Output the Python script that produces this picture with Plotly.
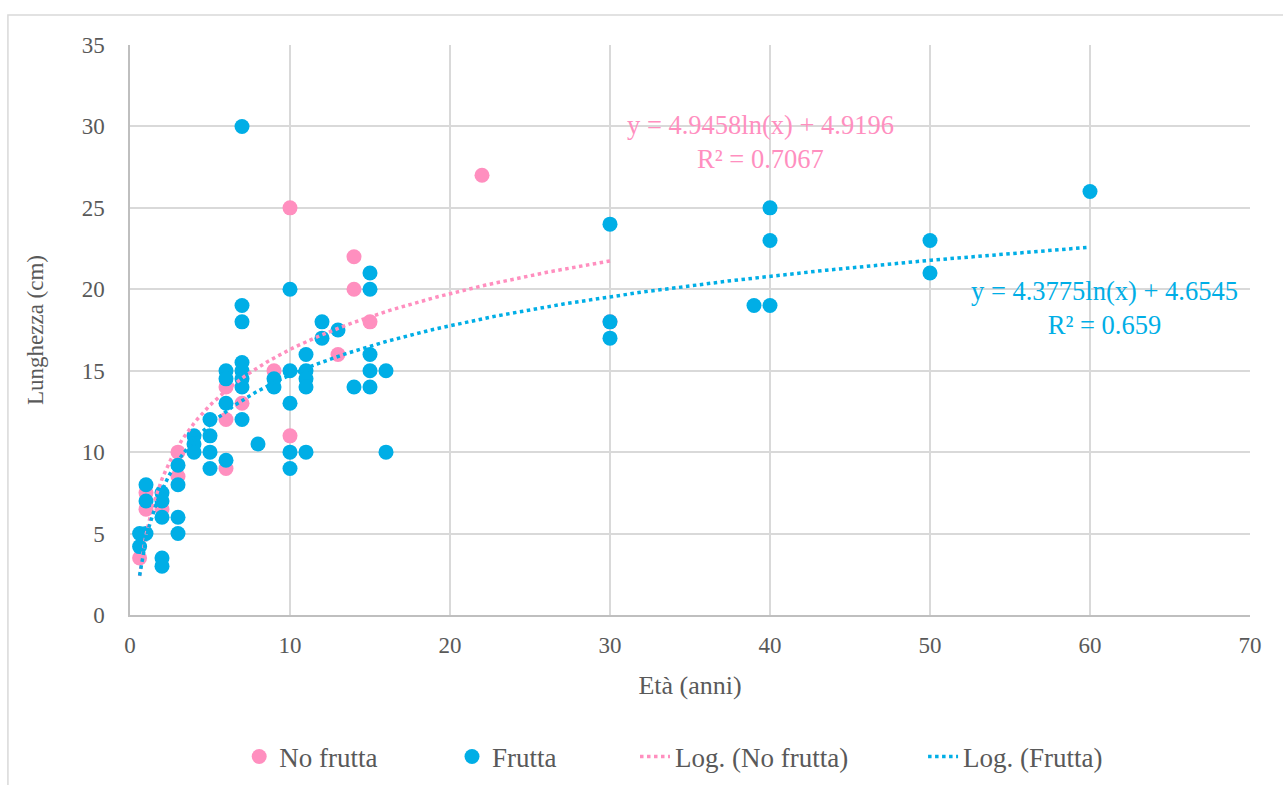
import numpy as np
import plotly.graph_objects as go

# ---- data ----
nof_x = [0.6, 1, 1, 2, 3, 3, 6, 6, 6, 7, 9, 10, 10, 13, 14, 14, 15, 22, 30]
nof_y = [3.5, 7.5, 6.5, 6.5, 10, 8.5, 9, 12, 14, 13, 15, 11, 25, 16, 22, 20, 18, 27, 18]

fr_x = [0.6, 1, 0.6, 1, 1, 2, 2, 2, 2, 2, 3, 3, 3, 3, 4, 4, 4, 5, 5, 5, 5,
        6, 6, 6, 6, 7, 7, 7, 7, 7, 7, 7, 7, 8, 9, 9, 10, 10, 10, 10, 10,
        11, 11, 11, 11, 11, 12, 12, 13, 14, 15, 15, 15, 15, 15, 16, 16,
        30, 30, 30, 39, 40, 40, 40, 50, 50, 60]
fr_y = [5, 5, 4.2, 8, 7, 7.5, 7, 6, 3.5, 3, 9.2, 8, 6, 5, 11, 10.5, 10, 12, 11, 10, 9,
        15, 14.5, 13, 9.5, 30, 19, 18, 15.5, 15, 14.5, 14, 12, 10.5, 14.5, 14, 20, 15, 13, 10, 9,
        16, 15, 14.5, 14, 10, 18, 17, 17.5, 14, 21, 20, 16, 15, 14, 15, 10,
        24, 18, 17, 19, 25, 23, 19, 23, 21, 26]

# logarithmic trendline coefficients shown on the chart
nof_a, nof_b, nof_r2 = 4.9458, 4.9196, 0.7067
fr_a, fr_b, fr_r2 = 4.3775, 4.6545, 0.659

x_ticks = [0, 10, 20, 30, 40, 50, 60, 70]
y_ticks = [0, 5, 10, 15, 20, 25, 30, 35]

PINK = "#FF8FBF"
BLUE = "#00AEE6"
FONT = "Liberation Serif"
TXT = "#595959"

fig = go.Figure()
fig.add_trace(go.Scatter(x=nof_x, y=nof_y, mode="markers", name="No frutta",
                         marker=dict(color=PINK, size=15), legend="legend"))
fig.add_trace(go.Scatter(x=fr_x, y=fr_y, mode="markers", name="Frutta",
                         marker=dict(color=BLUE, size=15), legend="legend2"))

tx1 = np.linspace(min(nof_x), max(nof_x), 300)
tx2 = np.linspace(min(fr_x), max(fr_x), 300)
fig.add_trace(go.Scatter(x=tx1, y=nof_a * np.log(tx1) + nof_b, mode="lines",
                         name="Log. (No frutta)", legend="legend3",
                         line=dict(color=PINK, width=3.5, dash="dot")))
fig.add_trace(go.Scatter(x=tx2, y=fr_a * np.log(tx2) + fr_b, mode="lines",
                         name="Log. (Frutta)", legend="legend4",
                         line=dict(color=BLUE, width=3.5, dash="dot")))

fig.add_annotation(x=39.4, y=29.05, xref="x", yref="y", showarrow=False,
                   text=f"y = {nof_a}ln(x) + {nof_b}<br>R² = {nof_r2}",
                   font=dict(family=FONT, size=26.5, color=PINK), align="center")
fig.add_annotation(x=60.9, y=18.85, xref="x", yref="y", showarrow=False,
                   text=f"y = {fr_a}ln(x) + {fr_b}<br>R² = {fr_r2}",
                   font=dict(family=FONT, size=26.5, color=BLUE), align="center")

fig.add_shape(type="rect", xref="paper", yref="paper",
              x0=-0.109, x1=1.05, y0=-0.32, y1=1.0526,
              line=dict(color="#D9D9D9", width=1.5), layer="below")

leg_common = dict(orientation="h", xanchor="left", yref="container", y=0.0357,
                  yanchor="middle",
                  font=dict(family=FONT, size=27, color=TXT), bgcolor="rgba(0,0,0,0)")

fig.update_layout(
    width=1283, height=785,
    margin=dict(l=130, r=33, t=45, b=170, autoexpand=False),
    paper_bgcolor="white", plot_bgcolor="white",
    font=dict(family=FONT, size=24, color=TXT),
    showlegend=True,
    legend=dict(x=0.0975, **leg_common),
    legend2=dict(x=0.2875, **leg_common),
    legend3=dict(x=0.4509, **leg_common),
    legend4=dict(x=0.7081, **leg_common),
    xaxis=dict(range=[0, 70], tickvals=x_ticks, showgrid=True, gridcolor="#D9D9D9",
               gridwidth=1.5, zeroline=False, showline=True, linecolor="#BFBFBF",
               linewidth=1.5, ticks="", ticklabelstandoff=9, automargin=False,
               title=dict(text="Età (anni)", standoff=18, font=dict(size=26)),
               tickfont=dict(size=23)),
    yaxis=dict(range=[0, 35], tickvals=y_ticks, showgrid=True, gridcolor="#D9D9D9",
               gridwidth=1.5, zeroline=False, showline=True, linecolor="#BFBFBF",
               linewidth=1.5, ticks="", ticklabelstandoff=19, automargin=False,
               title=dict(text="Lunghezza (cm)", standoff=32, font=dict(size=23)),
               tickfont=dict(size=23)),
)

fig.write_html("out.html")
